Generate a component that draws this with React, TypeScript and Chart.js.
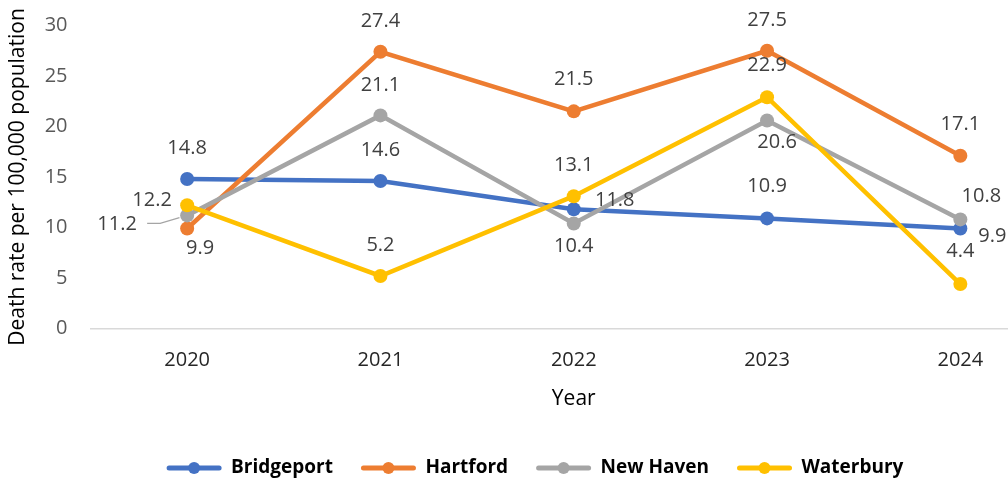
import React, { useEffect, useRef } from 'react';
import { Chart, registerables } from 'chart.js';

Chart.register(...registerables);

// ---- data ----
const years = ['2020', '2021', '2022', '2023', '2024'];
const seriesNames = ['Bridgeport', 'Hartford', 'New Haven', 'Waterbury'];
const bridgeport = [14.8, 14.6, 11.8, 10.9, 9.9];
const hartford = [9.9, 27.4, 21.5, 27.5, 17.1];
const newHaven = [11.2, 21.1, 10.4, 20.6, 10.8];
const waterbury = [12.2, 5.2, 13.1, 22.9, 4.4];
const yMin = 0;
const yMax = 30;
const yStep = 5;

// ---- styles ----
const seriesColors = ['#4472C4', '#ED7D31', '#A5A5A5', '#FFC000'];
const FONT = "'Open Sans', sans-serif";
// data label offsets (px) relative to each point [dx, dy]
const labelOffsets = [
  [[0, -31], [0, -31], [41, -9], [0, -32], [32, 8]],
  [[13, 20], [0, -30], [0, -32], [0, -30], [0, -31]],
  [[-70, 9], [0, -30], [0, 23], [10, 22], [21, -23]],
  [[-35, -5], [0, -31], [0, -31], [0, -32], [0, -33]],
];
// labels with a leader line: [seriesIndex, pointIndex]
const leaderLines = [[2, 0]];

const dataLabelPlugin = {
  id: 'dataLabels',
  afterDatasetsDraw(chart: any) {
    const ctx = chart.ctx;
    ctx.save();
    ctx.font = `20px ${FONT}`;
    ctx.fillStyle = '#404040';
    ctx.textAlign = 'center';
    ctx.textBaseline = 'middle';
    chart.data.datasets.forEach((ds: any, i: number) => {
      const meta = chart.getDatasetMeta(i);
      meta.data.forEach((pt: any, j: number) => {
        const [dx, dy] = labelOffsets[i][j];
        const lx = pt.x + dx;
        const ly = pt.y + dy;
        ctx.fillText(Number(ds.data[j]).toFixed(1), lx, ly);
        if (leaderLines.some(([a, b]) => a === i && b === j)) {
          ctx.save();
          ctx.strokeStyle = '#A5A5A5';
          ctx.lineWidth = 1.2;
          ctx.beginPath();
          ctx.moveTo(lx + 30, ly - 1);
          ctx.lineTo(lx + 43, ly - 1);
          const ang = Math.atan2(pt.y - (ly - 1), pt.x - (lx + 43));
          ctx.lineTo(pt.x - 8 * Math.cos(ang), pt.y - 8 * Math.sin(ang));
          ctx.stroke();
          ctx.restore();
        }
      });
    });
    ctx.restore();
  },
};

const legendMarkerPlugin = {
  id: 'legendMarkers',
  afterDraw(chart: any) {
    const legend = chart.legend;
    if (!legend || !legend.legendHitBoxes) return;
    const ctx = chart.ctx;
    const bw = legend.options.labels.boxWidth;
    const fs = legend.options.labels.font.size;
    ctx.save();
    legend.legendHitBoxes.forEach((box: any, i: number) => {
      ctx.fillStyle = seriesColors[i];
      ctx.beginPath();
      ctx.arc(box.left + bw / 2, box.top + fs / 2, 6, 0, Math.PI * 2);
      ctx.fill();
    });
    ctx.restore();
  },
};

export default function App() {
  const canvasRef = useRef<HTMLCanvasElement | null>(null);

  useEffect(() => {
    if (!canvasRef.current) return;
    const seriesData = [bridgeport, hartford, newHaven, waterbury];
    const chart = new Chart(canvasRef.current, {
      type: 'line',
      data: {
        labels: years,
        datasets: seriesData.map((d, i) => ({
          label: seriesNames[i],
          data: d,
          borderColor: seriesColors[i],
          backgroundColor: seriesColors[i],
          pointBackgroundColor: seriesColors[i],
          pointBorderColor: seriesColors[i],
          pointBorderWidth: 0,
          pointRadius: 7,
          borderWidth: 4.5,
          tension: 0,
          fill: false,
          order: seriesData.length - i,
        })),
      },
      options: {
        responsive: false,
        animation: false,
        devicePixelRatio: 1,
        layout: { padding: { left: 6, top: 25.5, right: 0, bottom: -6.5 } },
        plugins: {
          tooltip: { enabled: false },
          legend: {
            position: 'bottom',
            labels: {
              boxWidth: 55,
              boxHeight: 5,
              padding: 28,
              color: '#000',
              font: { family: FONT, size: 19, weight: 'bold' },
              generateLabels: (c: any) =>
                c.data.datasets.map((ds: any, i: number) => ({
                  text: ds.label,
                  fillStyle: seriesColors[i],
                  strokeStyle: seriesColors[i],
                  lineWidth: 0,
                  borderRadius: 2.5,
                  hidden: false,
                  datasetIndex: i,
                  fontColor: '#000',
                })),
            },
          },
        },
        scales: {
          x: {
            type: 'category',
            offset: true,
            grid: { display: false, drawTicks: false },
            border: { display: true, color: '#D9D9D9', width: 1.5 },
            ticks: { color: '#262626', padding: 19.5, font: { family: FONT, size: 20 } },
            title: {
              display: true,
              text: 'Year',
              color: '#000',
              font: { family: FONT, size: 21 },
              padding: { top: 0, bottom: 18.9 },
            },
            afterFit: (s: any) => {
              s.height = 102;
              s.paddingLeft = 0;
              s.paddingRight = 0;
            },
          },
          y: {
            min: yMin,
            max: yMax,
            grid: { display: false, drawTicks: false },
            border: { display: false },
            ticks: { stepSize: yStep, color: '#595959', padding: 23, font: { family: FONT, size: 20 } },
            title: {
              display: true,
              text: 'Death rate per 100,000 population',
              color: '#000',
              font: { family: FONT, size: 21 },
              padding: { top: -0.6, bottom: 0 },
            },
            afterFit: (s: any) => {
              s.width = 84.5;
              s.paddingTop = 0;
              s.paddingBottom = 0;
            },
          },
        },
      },
      plugins: [dataLabelPlugin, legendMarkerPlugin],
    } as any);
    return () => chart.destroy();
  }, []);

  return (
    <div style={{ position: 'fixed', left: 0, top: 0, width: 1008, height: 481, overflow: 'hidden', background: '#fff' }}>
      <canvas ref={canvasRef} width={1064} height={481} style={{ width: 1064, height: 481, display: 'block' }} />
    </div>
  );
}
